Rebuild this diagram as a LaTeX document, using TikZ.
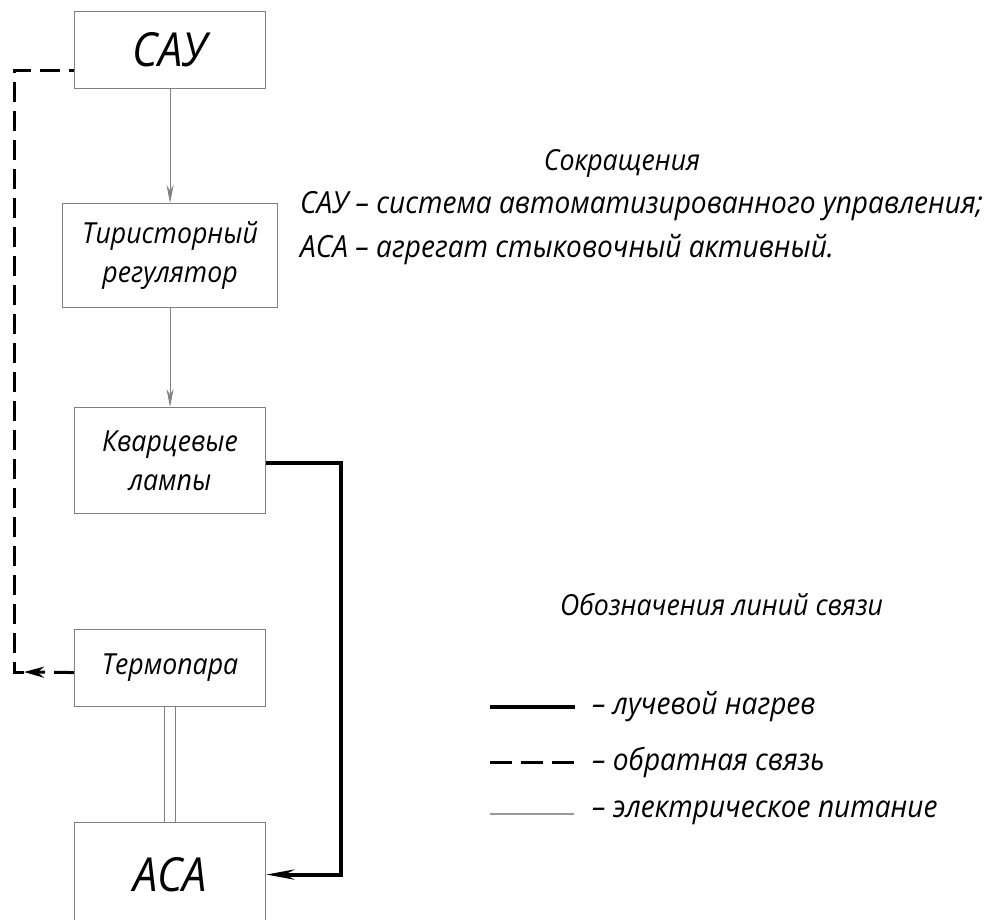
\documentclass[tikz,border=0pt]{standalone}
\usepackage{fontspec}
\setmainfont{Open Sans}[FakeStretch=0.92]
\usetikzlibrary{arrows.meta}
\definecolor{boxgray}{HTML}{808080}
\begin{document}
\begin{tikzpicture}[x=1pt,y=-1pt,
  blk/.style={draw=boxgray, line width=1.1pt, inner sep=0pt, anchor=north west, font=\itshape\fontsize{29}{39}\selectfont, align=center},
  big/.style={font=\itshape\fontsize{47}{47}\selectfont},
  elec/.style={draw=boxgray, line width=0.9pt},
  heat/.style={draw=black, line width=4pt},
  fb/.style={draw=black, line width=3pt, dash pattern=on 20pt off 9pt},
  txt/.style={inner sep=0pt, font=\itshape\fontsize{30.5}{34}\selectfont, anchor=west},
  head/.style={inner sep=0pt, font=\itshape\fontsize{29}{34}\selectfont}]
\useasboundingbox (0,0) rectangle (1004,920);
% blocks
\node[blk, big, minimum width=191, minimum height=77] (sau) at (74,11) {САУ};
\node[blk, minimum width=215, minimum height=104] (tir) at (62,203) {Тиристорный\\регулятор};
\node[blk, minimum width=191, minimum height=106] (kvl) at (74,407) {Кварцевые\\лампы};
\node[blk, minimum width=191, minimum height=77] (term) at (74,629) {Термопара};
\node[blk, big, minimum width=191, minimum height=104] (aca) at (74,822) {АСА};
% connectors
\draw[elec, -{Stealth[length=18pt,width=7pt]}] (sau.south) -- (tir.north);
\draw[elec, -{Stealth[length=18pt,width=7pt]}] (tir.south) -- (kvl.north);
\draw[heat, -{Stealth[length=28pt,width=10pt]}] ([yshift=-2pt]kvl.east) -- ++(75,0) |- (aca.east);
\coordinate (fbtip) at (24,672);
\coordinate (fbcorner) at (14,672);
\draw[fb, -{Stealth[length=20pt,width=11pt]}] ([yshift=-4.5pt]term.west) -- (fbtip);
\draw[fb] (fbtip) -- (fbcorner) |- ([yshift=-20pt]sau.west);
\draw[elec, double distance=10pt] (term.south) -- (aca.north);
% abbreviations
\node[head] (abbr) at (622,163) {Сокращения};
\node[txt] (abbr1) at (300,206) {САУ – система автоматизированного управления;};
\node[txt] (abbr2) at (300,250) {АСА – агрегат стыковочный активный.};
% legend
\node[head, anchor=west] (leg) at (560,605) {Обозначения линий связи};
\coordinate (l1a) at (490,707); \coordinate (l1b) at (575,707);
\coordinate (l2a) at (490,762); \coordinate (l2b) at (575,762);
\coordinate (l3a) at (490,814); \coordinate (l3b) at (574,814);
\draw[heat] (l1a) -- (l1b);
\draw[fb, dash pattern=on 22pt off 9pt] (l2a) -- (l2b);
\draw[elec, draw=boxgray!80, line width=1.4pt] (l3a) -- (l3b);
\node[txt] (leg1) at (592,707) {– лучевой нагрев};
\node[txt] (leg2) at (592,762) {– обратная связь};
\node[txt] (leg3) at (592,813) {– электрическое питание};
\end{tikzpicture}
\end{document}
